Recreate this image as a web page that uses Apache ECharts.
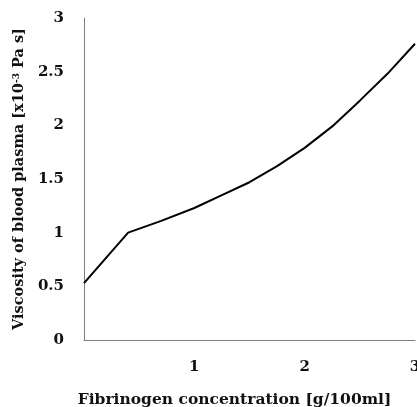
<!DOCTYPE html>
<html>
<head>
<meta charset="utf-8">
<script src="https://cdn.jsdelivr.net/npm/echarts@6/dist/echarts.min.js"></script>
<style>
  html, body { margin: 0; padding: 0; background: #fff; }
  #chart { width: 417px; height: 407px; }
</style>
</head>
<body>
<div id="chart"></div>
<script>
// fibrinogen concentration [g/100ml] vs viscosity [x10^-3 Pa s]
var fibrinogen = [0, 0.4, 0.7, 1.0, 1.25, 1.5, 1.75, 2.0, 2.25, 2.5, 2.75, 3.0];
var viscosity = [0.53, 1.0, 1.11, 1.23, 1.35, 1.47, 1.62, 1.79, 1.99, 2.23, 2.48, 2.76];

var xTicks = ['', '1', '2', '3'];

var points = [];
for (var i = 0; i < fibrinogen.length; i++) {
  points.push([fibrinogen[i], viscosity[i]]);
}

var font = 'DejaVu Serif';
var chart = echarts.init(document.getElementById('chart'));
chart.setOption({
  animation: false,
  grid: { left: 84, right: 2, top: 18, bottom: 67, containLabel: false, outerBoundsMode: 'none' },
  xAxis: {
    type: 'value',
    min: 0, max: 3, interval: 1,
    name: 'Fibrinogen concentration [g/100ml]',
    nameLocation: 'middle',
    nameGap: 52,
    nameTextStyle: { fontFamily: font, fontWeight: 'bold', fontSize: 15.5, color: '#111', padding: [0, 30, 0, 0] },
    axisLine: { show: true, lineStyle: { color: '#808080', width: 1 } },
    axisTick: { show: false },
    splitLine: { show: false },
    axisLabel: {
      margin: 20,
      fontFamily: font, fontWeight: 'bold', fontSize: 15, color: '#111',
      formatter: function (v) { return xTicks[Math.round(v)]; }
    }
  },
  yAxis: {
    type: 'value',
    min: 0, max: 3, interval: 0.5,
    name: 'Viscosity of blood plasma [x10{sup|-3} Pa s]',
    nameLocation: 'middle',
    nameGap: 31,
    nameRotate: 90,
    nameTextStyle: {
      fontFamily: font, fontWeight: 'bold', fontSize: 14.5, color: '#111',
      rich: { sup: { fontFamily: font, fontWeight: 'bold', fontSize: 9, color: '#111', verticalAlign: 'top', padding: [0, 0, 6, 0] } }
    },
    axisLine: { show: true, lineStyle: { color: '#808080', width: 1 } },
    axisTick: { show: false },
    splitLine: { show: false },
    axisLabel: { margin: 20, fontFamily: font, fontWeight: 'bold', fontSize: 15, color: '#111' }
  },
  series: [{
    type: 'line',
    data: points,
    showSymbol: false,
    smooth: false,
    lineStyle: { color: '#000', width: 2 }
  }]
});
</script>
</body>
</html>
